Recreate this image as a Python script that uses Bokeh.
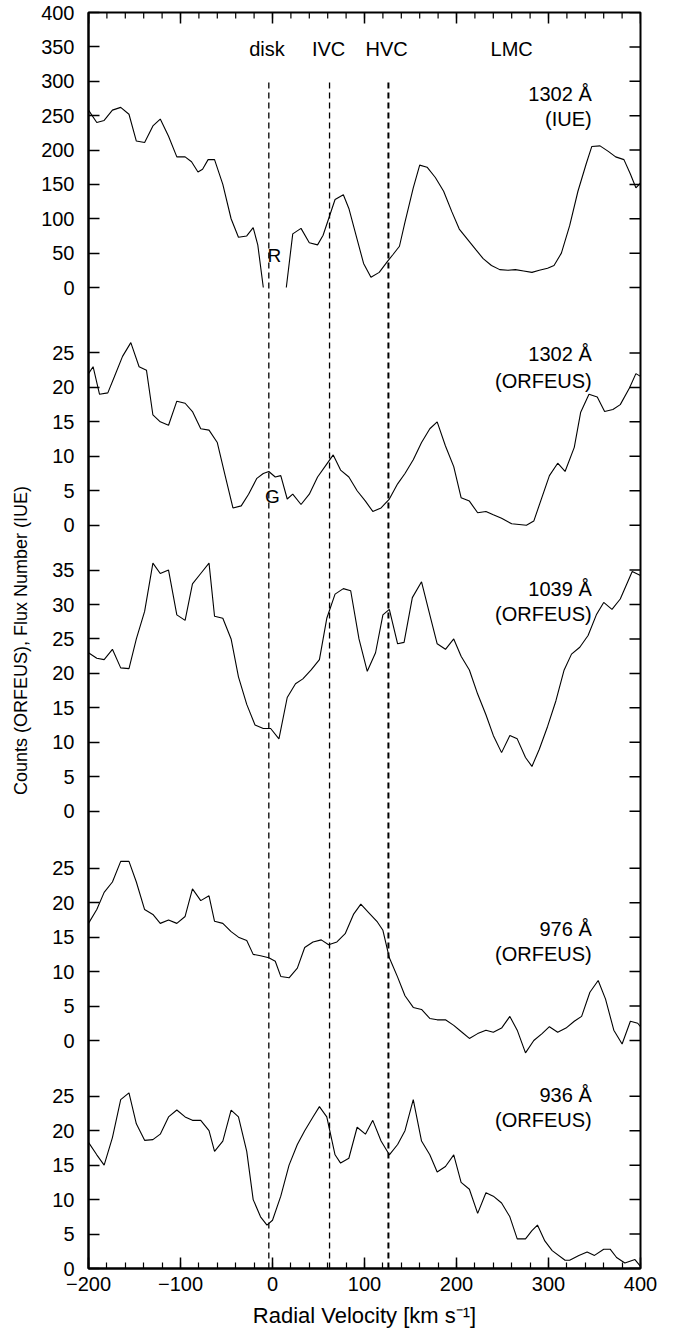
import math
from bokeh.plotting import figure
from bokeh.models import FixedTicker, Range1d
from bokeh.embed import file_html
from bokeh.resources import INLINE
from bokeh.core.properties import value

NaN = float("nan")

# ---------------- data (radial velocity in km/s, values in panel units) ----------------
# 1302 A (IUE) -- gap around the geocoronal region
v_1302_iue = [-200, -191, -183, -174, -165, -156, -148, -139, -130, -122, -113, -104, -95, -88, -81, -76,
              -70, -63, -54, -45, -37, -28, -21, -16, -10, NaN,
              15, 22, 31, 40, 49, 55, 61, 68, 77, 83, 92, 99, 107, 116, 125, 131, 138, 144, 153, 160,
              168, 177, 186, 195, 203, 212, 221, 229, 238, 247, 256, 264, 273, 282, 290, 299, 306, 314,
              323, 332, 341, 347, 356, 365, 373, 382, 389, 395, 400]
f_1302_iue = [258, 240, 243, 258, 262, 252, 213, 211, 235, 245, 220, 190, 190, 183, 168, 172,
              186, 186, 150, 100, 73, 75, 87, 62, 0, NaN,
              0, 78, 86, 65, 62, 76, 100, 128, 135, 115, 70, 35, 15, 22, 38, 48, 60, 95, 145, 178,
              175, 160, 140, 110, 85, 70, 55, 42, 32, 26, 25, 26, 24, 22, 25, 28, 32, 50,
              90, 140, 180, 205, 206, 198, 190, 186, 165, 145, 152]

v_1302_orf = [-200, -195, -188, -179, -172, -163, -154, -145, -137, -130, -122, -113, -104, -95, -87,
              -78, -69, -60, -52, -43, -34, -26, -17, -10, -4, 3, 9, 16, 22, 31, 40, 49, 57, 66, 74,
              83, 92, 101, 109, 118, 127, 136, 144, 153, 162, 171, 179, 188, 197, 205, 214, 223, 232,
              240, 249, 260, 276, 284, 301, 310, 318, 328, 335, 344, 353, 361, 370, 378, 388, 395, 400]
f_1302_orf = [22, 23, 19, 19.2, 21.5, 24.5, 26.5, 23, 22.5, 16, 15, 14.5, 18, 17.7, 16.5,
              14, 13.8, 12, 7.5, 2.5, 2.8, 4.5, 6.8, 7.5, 7.8, 7, 7.2, 3.8, 4.5, 3, 4.5, 7, 8.5, 10.2, 8,
              7, 5, 3.5, 2, 2.5, 3.8, 6, 7.5, 9.5, 12, 14, 15, 11.5, 8.5, 4, 3.5, 1.8, 2,
              1.5, 1, 0.2, 0, 0.6, 7.2, 9, 7.8, 11.3, 16.4, 19, 18.6, 16.5, 16.8, 17.5, 19.9, 22, 21.6]

v_1039 = [-200, -191, -183, -174, -165, -156, -148, -139, -130, -122, -113, -104, -95, -87, -78,
          -69, -63, -54, -45, -37, -28, -19, -10, -2, 7, 16, 25, 33, 42, 51, 59, 68, 77, 85, 94,
          103, 112, 120, 127, 136, 143, 152, 162, 171, 179, 188, 197, 205, 214, 223, 232, 240, 249,
          258, 266, 275, 282, 290, 299, 308, 317, 325, 334, 343, 352, 360, 369, 378, 391, 400]
f_1039 = [23, 22.2, 22, 23.5, 20.8, 20.7, 25, 29, 36, 34.5, 35, 28.5, 27.7, 33, 34.5,
          36, 28.3, 28, 25, 19.5, 15.5, 12.5, 12, 12, 10.5, 16.5, 18.5, 19.2, 20.5, 22, 28, 31.5, 32.3, 32, 25,
          20.3, 23, 28.5, 29.3, 24.3, 24.5, 31, 33.3, 28.5, 24.3, 23.5, 25, 22.5, 20.5, 17, 14, 11, 8.5,
          11, 10.5, 7.8, 6.5, 9, 12.3, 16, 20.5, 22.8, 23.8, 25.5, 28.5, 30.3, 29.3, 30.8, 34.8, 34.2]

v_976 = [-200, -191, -183, -174, -165, -156, -148, -139, -130, -122, -113, -104, -95, -87, -78,
         -69, -63, -54, -45, -37, -28, -21, -13, -4, 3, 9, 18, 27, 35, 44, 53, 61, 70, 79, 88,
         96, 105, 114, 120, 127, 136, 144, 153, 162, 171, 179, 188, 197, 205, 214, 223, 232, 240, 249, 258,
         266, 275, 284, 293, 301, 310, 319, 328, 336, 345, 354, 362, 371, 380, 389, 397, 400]
f_976 = [17, 19, 21.5, 23, 26, 26, 23, 19, 18.3, 17, 17.5, 17, 18, 22, 20.3,
         21, 17.3, 17, 15.8, 15, 14.5, 12.5, 12.3, 12, 11.5, 9.3, 9.1, 10.5, 13.5, 14.3, 14.6, 13.9, 14.3, 15.5, 18.3,
         19.8, 18.5, 17.2, 16, 12, 9.2, 6.5, 4.8, 4.5, 3.2, 3, 3, 2.2, 1.3, 0.3, 1, 1.5, 1.2, 1.8, 3.5,
         1.5, -1.8, 0, 1, 2, 1.2, 1.8, 2.8, 3.5, 7, 8.7, 6, 1.5, -0.5, 2.8, 2.5, 2]

v_936 = [-200, -191, -183, -174, -165, -156, -148, -139, -130, -122, -113, -104, -95, -87, -78,
         -69, -63, -54, -45, -37, -28, -21, -13, -6, 0, 9, 18, 27, 35, 44, 51, 59, 68, 74, 83,
         92, 101, 109, 118, 127, 136, 144, 153, 162, 171, 179, 188, 197, 205, 214, 223, 232, 240, 249, 258,
         266, 275, 282, 288, 296, 304, 318, 323, 333, 342, 350, 360, 367, 374, 383, 394, 400]
f_936 = [18.3, 16.5, 15, 19, 24.5, 25.5, 21, 18.6, 18.7, 19.5, 22, 23, 22, 21.5, 21.5,
         20, 17, 18.5, 23, 22, 17, 10, 7.5, 6.3, 7, 10.5, 15, 18, 20, 22, 23.5, 22, 16.5, 15.3, 16,
         20.5, 19.5, 21.5, 18.5, 16.5, 18, 20, 24.5, 18.5, 16.5, 14, 14.8, 16.5, 12.5, 11.5, 8, 11, 10.5, 9.5, 7.5,
         4.3, 4.3, 5.5, 6.3, 4, 2.6, 1.2, 1.2, 1.9, 2.4, 1.9, 2.8, 2.8, 1.6, 0.8, 1.3, 0.3]

# tick labels of each stacked panel
ticks_1302_iue = [0, 50, 100, 150, 200, 250, 300, 350, 400]
ticks_1302_orf = [0, 5, 10, 15, 20, 25]
ticks_1039 = [0, 5, 10, 15, 20, 25, 30, 35]
ticks_976 = [0, 5, 10, 15, 20, 25]
ticks_936 = [0, 5, 10, 15, 20, 25]

x_ticks = [-200, -100, 0, 100, 200, 300, 400]
x_minor = list(range(-200, 401, 20))
component_names = ["disk", "IVC", "HVC", "LMC"]
component_v = [-6, 61, 124, 260]
marker_v = [-4, 62, 126]

panel_titles = [("1302 Å", "(IUE)"), ("1302 Å", "(ORFEUS)"), ("1039 Å", "(ORFEUS)"),
                ("976 Å", "(ORFEUS)"), ("936 Å", "(ORFEUS)")]

# ---------------- layout of the stacked panels (common vertical coordinate) ----------------
FONT = "Liberation Sans"
TOP = 1256.0
panels = [
    (v_1302_iue, f_1302_iue, ticks_1302_iue, 981.0, 0.6875, (1175, 1150)),
    (v_1302_orf, f_1302_orf, ticks_1302_orf, 743.3, 6.89, (915, 888)),
    (v_1039, f_1039, ticks_1039, 457.3, 6.89, (680, 655)),
    (v_976, f_976, ticks_976, 228.0, 6.89, (340, 315)),
    (v_936, f_936, ticks_936, 0.0, 6.89, (174, 149)),
]

p = figure(width=675, height=1339, output_backend="svg", toolbar_location=None,
           x_range=Range1d(-200, 400), y_range=Range1d(0, TOP),
           min_border_left=88, min_border_right=35, min_border_top=12, min_border_bottom=71)
p.background_fill_color = "white"
p.border_fill_color = "white"
p.outline_line_color = "black"
p.outline_line_width = 2
p.xgrid.visible = False
p.ygrid.visible = False

y_tick_pos = []
y_tick_lab = {}
for (vv, ff, tks, base, scale, lab_y), titles in zip(panels, panel_titles):
    yy = [base + f * scale if not math.isnan(f) else NaN for f in ff]
    p.line(vv, yy, line_color="black", line_width=1.1)
    for t in tks:
        pos = round(base + t * scale, 4)
        y_tick_pos.append(pos)
        y_tick_lab[pos] = str(t)
    p.text(x=[347, 347], y=list(lab_y), text=list(titles), text_align="right",
           text_baseline="middle", text_font=value(FONT), text_font_size="20px", text_color="black")

# dashed component markers
p.segment(x0=marker_v[:2], y0=[0, 0], x1=marker_v[:2], y1=[1188, 1188],
          line_color="black", line_width=1.3, line_dash="6 4")
p.segment(x0=marker_v[2:], y0=[0], x1=marker_v[2:], y1=[1188],
          line_color="black", line_width=2, line_dash="6 4")

p.text(x=component_v, y=[1220] * 4, text=component_names, text_align="center", text_baseline="middle",
       text_font=value(FONT), text_font_size="20px", text_color="black")
p.text(x=[2, 0], y=[1013, 772], text=["R", "G"], text_align="center", text_baseline="middle",
       text_font=value(FONT), text_font_size="19px", text_color="black")

# mirrored inward ticks on the top and right frame edges
p.ray(x=x_ticks, y=[TOP] * len(x_ticks), length=11, length_units="screen",
      angle=-math.pi / 2, line_color="black", line_width=1.5)
p.ray(x=x_minor, y=[TOP] * len(x_minor), length=6, length_units="screen",
      angle=-math.pi / 2, line_color="black", line_width=1.2)
p.ray(x=[400] * len(y_tick_pos), y=y_tick_pos, length=11, length_units="screen",
      angle=math.pi, line_color="black", line_width=1.5)

yt = FixedTicker(ticks=y_tick_pos, minor_ticks=[])
xt = FixedTicker(ticks=x_ticks, minor_ticks=x_minor)
x_labels = {t: (("−" + str(-t)) if t < 0 else str(t)) for t in x_ticks}


def style(ax):
    ax.axis_line_width = 2
    ax.axis_line_color = "black"
    ax.major_tick_in = 11
    ax.major_tick_out = 0
    ax.minor_tick_in = 6
    ax.minor_tick_out = 0
    ax.major_tick_line_width = 1.5
    ax.minor_tick_line_width = 1.2
    ax.major_label_text_font = FONT
    ax.major_label_text_font_size = "20px"
    ax.major_label_text_color = "black"
    ax.axis_label_text_font = FONT
    ax.axis_label_text_font_style = "normal"
    ax.axis_label_text_color = "black"


xa = p.xaxis[0]
xa.ticker = xt
xa.major_label_overrides = x_labels
xa.axis_label = "Radial Velocity [km s⁻¹]"
style(xa)
xa.axis_label_text_font_size = "22px"
xa.major_label_standoff = 8
xa.axis_label_standoff = 9

ya = p.yaxis[0]
ya.ticker = yt
ya.major_label_overrides = y_tick_lab
ya.axis_label = "Counts (ORFEUS), Flux Number (IUE)"
style(ya)
ya.axis_label_text_font_size = "18px"
ya.major_label_standoff = 14
ya.axis_label_standoff = 7

open("out.html", "w").write(file_html(p, INLINE))
